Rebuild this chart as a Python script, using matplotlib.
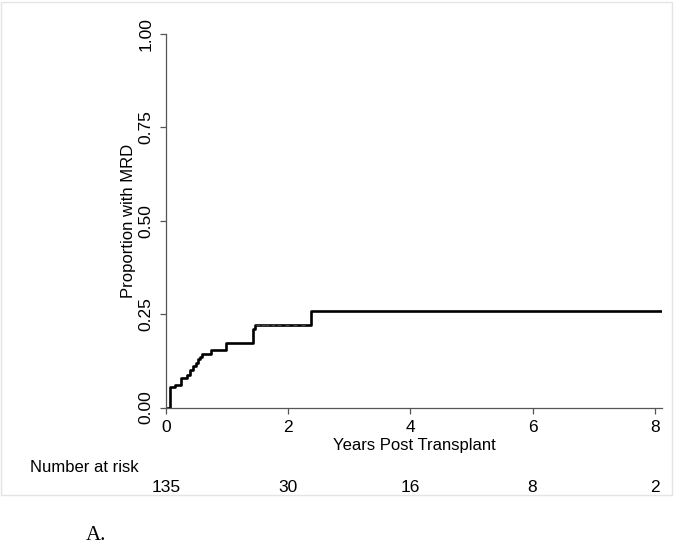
import numpy as np
import matplotlib
matplotlib.use("Agg")
import matplotlib.pyplot as plt
from matplotlib.patches import Rectangle

# Kaplan-Meier style cumulative incidence
t_steps = [0.0, 0.06, 0.15, 0.25, 0.34, 0.39, 0.44, 0.49, 0.53, 0.56, 0.59,
           0.74, 0.99, 1.42, 1.45, 2.37, 8.12]
p_steps = [0.0, 0.055, 0.061, 0.080, 0.088, 0.101, 0.110, 0.119, 0.129, 0.136,
           0.142, 0.155, 0.172, 0.210, 0.220, 0.258, 0.258]
censor_t = [1.50, 1.58, 1.66, 1.75, 1.85, 1.98, 2.12, 2.25]
censor_p = [0.222] * len(censor_t)

risk_t = [0, 2, 4, 6, 8]
risk_n = [135, 30, 16, 8, 2]

plt.rcParams['font.family'] = ['Liberation Sans', 'DejaVu Sans']

fig = plt.figure(figsize=(6.82, 5.45), dpi=100)
W, H = 682, 545

# light frame of the graph region
fig.patches.append(Rectangle((1 / W, 1 - 495 / H), 671 / W, 493 / H,
                             transform=fig.transFigure, fill=False,
                             edgecolor='#e4e4e4', linewidth=1.0))

ax = fig.add_axes([166 / W, 1 - 407.5 / H, (662 - 166) / W, (407.5 - 34) / H])
ax.step(t_steps, p_steps, where='post', color='black', linewidth=1.9)
ax.plot(censor_t, censor_p, linestyle='none', marker='_', markersize=2.5,
        color='#444444', markeredgewidth=0.8)

ax.set_xlim(0, 8.12)
ax.set_ylim(0, 1)
ax.set_xticks([0, 2, 4, 6, 8])
ax.set_yticks([0, 0.25, 0.5, 0.75, 1.0])
ax.set_yticklabels(['0.00', '0.25', '0.50', '0.75', '1.00'],
                   rotation=90, va='center')
ax.tick_params(axis='both', direction='out', length=4, width=0.9,
               color='#555555', labelsize=12.5, pad=5)
for s in ['top', 'right']:
    ax.spines[s].set_visible(False)
for s in ['left', 'bottom']:
    ax.spines[s].set_color('#555555')
    ax.spines[s].set_linewidth(0.9)

ax.set_ylabel('Proportion with MRD', fontsize=12, labelpad=2)
ax.set_xlabel('Years Post Transplant', fontsize=12, labelpad=2)

# number at risk table
fig.text(30 / W, 1 - 468 / H, 'Number at risk', fontsize=12,
         ha='left', va='center')
for t, n in zip(risk_t, risk_n):
    xf = fig.transFigure.inverted().transform(ax.transData.transform((t, 0)))[0]
    fig.text(xf, 1 - 487 / H, str(n), fontsize=12.5, ha='center', va='center')

fig.text(86 / W, 1 - 536 / H, 'A.', fontsize=15, family='Liberation Serif',
         ha='left', va='center')

fig.savefig('out.png', dpi=100, facecolor='white')
